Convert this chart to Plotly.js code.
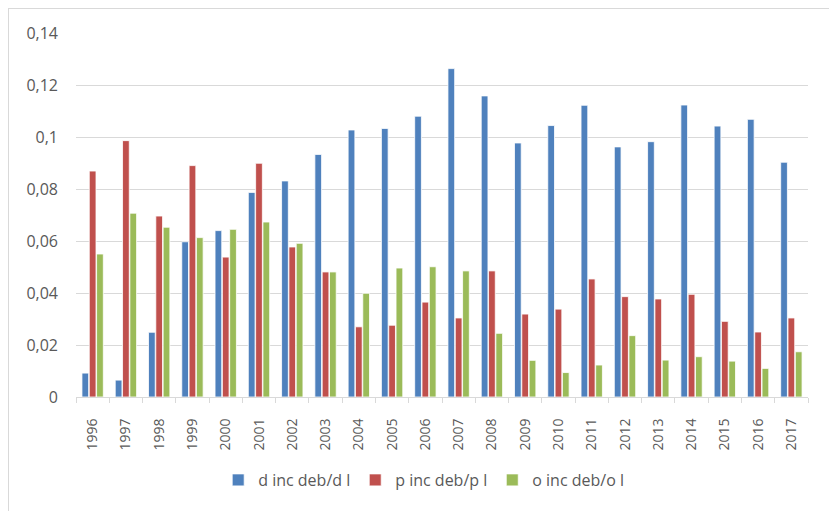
<!DOCTYPE html>
<html><head><meta charset="utf-8">
<script src="https://cdn.plot.ly/plotly-3.0.1.min.js"></script>
<style>
html,body{margin:0;padding:0;overflow:hidden;background:#fff;}
#chart{width:829px;height:511px;}
#frame{position:absolute;left:8px;top:8px;width:900px;height:600px;border:1px solid #d9d9d9;pointer-events:none;}
</style></head>
<body>
<div id="chart"></div><div id="frame"></div>
<script>
const years = ['1996','1997','1998','1999','2000','2001','2002','2003','2004','2005','2006','2007','2008','2009','2010','2011','2012','2013','2014','2015','2016','2017'];
const dIncDeb = [0.0092,0.0065,0.0249,0.0597,0.0640,0.0787,0.0831,0.0933,0.1027,0.1033,0.1080,0.1263,0.1158,0.0977,0.1044,0.1122,0.0962,0.0982,0.1123,0.1042,0.1068,0.0903];
const pIncDeb = [0.0869,0.0986,0.0696,0.0890,0.0538,0.0899,0.0577,0.0481,0.0270,0.0276,0.0365,0.0304,0.0485,0.0319,0.0338,0.0454,0.0386,0.0377,0.0395,0.0291,0.0250,0.0304];
const oIncDeb = [0.0550,0.0707,0.0653,0.0613,0.0645,0.0673,0.0591,0.0481,0.0399,0.0496,0.0501,0.0485,0.0245,0.0141,0.0094,0.0123,0.0236,0.0142,0.0155,0.0138,0.0110,0.0174];
const seriesNames = ['d inc deb/d l','p inc deb/p l','o inc deb/o l'];
const colors = ['#4F81BD','#C0504D','#9BBB59'];
const vals = [dIncDeb,pIncDeb,oIncDeb];
const traces = vals.map((v,i)=>({
  type:'bar', x:years, y:v, name:seriesNames[i],
  marker:{color:colors[i], line:{color:'#ffffff', width:0.8}},
  hoverinfo:'x+y'
}));
const fam = '"Open Sans", "Noto Sans", sans-serif';
Plotly.newPlot('chart', traces, {
  width:829, height:511,
  margin:{l:76, r:21, t:33, b:114},
  paper_bgcolor:'#ffffff', plot_bgcolor:'#ffffff',
  font:{family:fam, size:14, color:'#595959'},
  separators:',.',
  barmode:'group', bargap:0.34, bargroupgap:0.08,
  showlegend:true,
  legend:{orientation:'h', x:0.475, xanchor:'center', y:-0.228, yanchor:'middle', bgcolor:'rgba(0,0,0,0)', font:{family:fam,size:16,color:'#595959'}, itemwidth:30, traceorder:'normal'},
  xaxis:{type:'category', tickangle:-90, showgrid:false, showline:true, linecolor:'#d9d9d9', linewidth:1,
         ticks:'outside', tickson:'boundaries', ticklen:5, tickcolor:'#d9d9d9', tickfont:{size:14,color:'#595959'}, ticklabelstandoff:15},
  yaxis:{range:[0,0.14], dtick:0.02, tick0:0, showgrid:true, gridcolor:'#d9d9d9', gridwidth:1, zeroline:false,
         showline:false, ticks:'', tickfont:{size:16,color:'#595959'}, ticklabelstandoff:17}
}, {displayModeBar:false, staticPlot:true});
</script>
</body></html>
